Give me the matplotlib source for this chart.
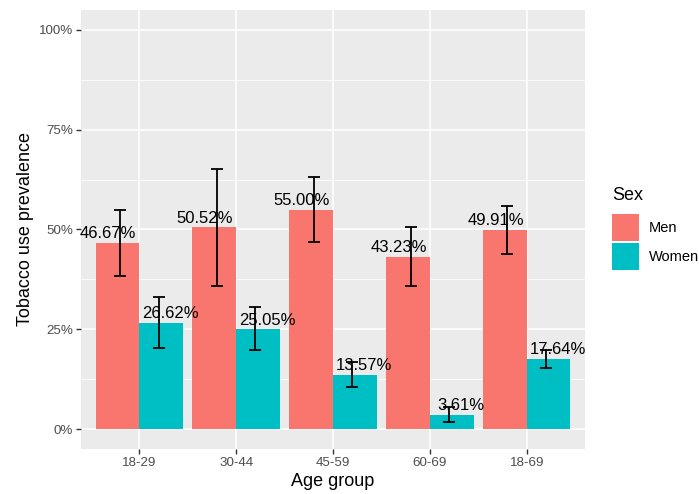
import matplotlib
matplotlib.use("Agg")
import matplotlib.pyplot as plt
from matplotlib.patches import Patch
import numpy as np

plt.rcParams['font.family'] = ['Liberation Sans', 'DejaVu Sans']

age_groups = ["18-29", "30-44", "45-59", "60-69", "18-69"]
men = [46.67, 50.52, 55.00, 43.23, 49.91]
women = [26.62, 25.05, 13.57, 3.61, 17.64]
men_low = [38.4, 35.9, 46.8, 35.8, 43.8]
men_high = [54.9, 65.1, 63.2, 50.7, 56.0]
women_low = [20.3, 19.8, 10.6, 1.8, 15.3]
women_high = [33.1, 30.5, 16.8, 5.6, 19.9]

men_color = "#F8766D"
women_color = "#00BFC4"

fig = plt.figure(figsize=(6.99, 4.94), dpi=100)
ax = fig.add_axes([81 / 699, 45 / 494, 504 / 699, 439 / 494])
ax.set_facecolor("#EBEBEB")

x = np.arange(1, len(age_groups) + 1)
bw = 0.45

ax.bar(x - bw / 2, men, width=bw, color=men_color, zorder=2)
ax.bar(x + bw / 2, women, width=bw, color=women_color, zorder=2)

# error bars (slightly narrower dodge than the bars, like the original)
for off, val, lo, hi in [(-0.2, men, men_low, men_high), (0.2, women, women_low, women_high)]:
    val = np.array(val)
    yerr = [val - np.array(lo), np.array(hi) - val]
    ax.errorbar(x + off, val, yerr=yerr, fmt="none", ecolor="black",
                elinewidth=1.3, capsize=4.3, capthick=1.3, zorder=3)

# value labels
for off, vals in [(-0.32, men), (0.32, women)]:
    for xi, v in zip(x, vals):
        ax.annotate(f"{v:.2f}%", (xi + off, v), xytext=(0, 1), textcoords="offset points",
                    ha="center", va="bottom", fontsize=12, color="black", zorder=4)

ax.set_xlim(0.4, 5.6)
ax.set_ylim(-5, 105)
ax.set_xticks(x)
ax.set_xticklabels(age_groups)
ax.set_yticks([0, 25, 50, 75, 100])
ax.set_yticklabels(["0%", "25%", "50%", "75%", "100%"])
ax.set_yticks([12.5, 37.5, 62.5, 87.5], minor=True)

ax.grid(True, which="major", color="white", linewidth=1.1, zorder=0)
ax.grid(True, which="minor", axis="y", color="white", linewidth=0.55, zorder=0)
ax.set_axisbelow(True)
for s in ax.spines.values():
    s.set_visible(False)

ax.tick_params(axis="both", which="major", length=3.5, width=1, color="#333333",
               labelcolor="#4D4D4D", labelsize=9.6, pad=2)
ax.tick_params(axis="both", which="minor", length=0)

ax.set_xlabel("Age group", fontsize=13, labelpad=3)
ax.set_ylabel("Tobacco use prevalence", fontsize=13, labelpad=4)

# legend: title as separate text, keys below it
fig.text(612 / 699, 1 - 196 / 494, "Sex", fontsize=13, ha="left", va="center")
handles = [Patch(facecolor=men_color, label="Men"), Patch(facecolor=women_color, label="Women")]
leg = fig.legend(handles=handles, loc="upper left",
                 bbox_to_anchor=(612 / 699, 1 - 214 / 494), frameon=False,
                 fontsize=10.5, handlelength=1.85, handleheight=2.5,
                 labelspacing=0.1, handletextpad=0.7, borderaxespad=0, borderpad=0)

fig.savefig("out.png", dpi=100)
